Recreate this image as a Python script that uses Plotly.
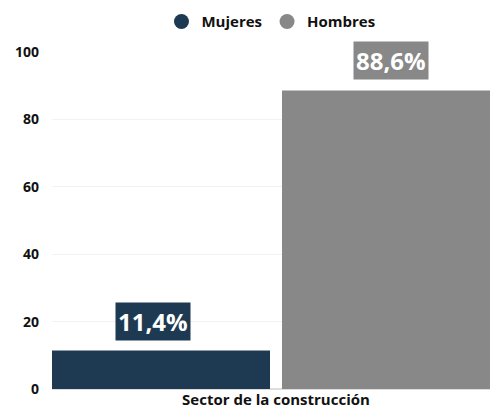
import plotly.graph_objects as go

categories = ["Sector de la construcción"]
series_names = ["Mujeres", "Hombres"]
mujeres = [11.4]
hombres = [88.6]
value_labels = ["11,4%", "88,6%"]
colors = ["#1d3a52", "#888888"]
y_ticks = [0, 20, 40, 60, 80, 100]

FONT = "Open Sans"

fig = go.Figure()
for name, vals, col in zip(series_names, [mujeres, hombres], colors):
    fig.add_trace(go.Bar(x=categories, y=vals, name=name, marker_color=col,
                         marker_line_width=0, showlegend=False, hoverinfo="skip"))
    fig.add_trace(go.Scatter(x=[None], y=[None], mode="markers", name=name,
                             marker=dict(color=col, size=15, symbol="circle")))

for i, (vals, lab, col) in enumerate(zip([mujeres, hombres], value_labels, colors)):
    fig.add_annotation(x=-0.25 + 0.5 * i, y=vals[0], text=f"<b>{lab}</b>",
                       showarrow=False, yanchor="bottom", yshift=10,
                       xshift=-8 if i == 0 else 0,
                       bgcolor=col, borderpad=2,
                       font=dict(family=FONT, size=24, color="white"))

fig.update_layout(
    width=490, height=409,
    margin=dict(l=52, r=0, t=52, b=20, autoexpand=False),
    paper_bgcolor="white", plot_bgcolor="white",
    barmode="group", bargap=0, bargroupgap=0.052,
    font=dict(family=FONT, color="#111111"),
    legend=dict(orientation="h", x=0.553, xanchor="center", xref="container",
                y=0.987, yanchor="top", yref="container",
                font=dict(family=FONT, size=15, color="#111", weight="bold"),
                traceorder="normal"),
    xaxis=dict(type="category", range=[-0.4859, 0.4642], showgrid=False,
               showline=False, ticks="", automargin=False,
               ticklabelstandoff=0,
               tickfont=dict(family=FONT, size=15, color="#111", weight="bold")),
    yaxis=dict(range=[0, 100], tickvals=y_ticks, showgrid=True, gridcolor="#f2f2f2",
               zeroline=True, zerolinecolor="#dddddd", showline=False,
               ticklabelstandoff=12, automargin=False,
               tickfont=dict(family=FONT, size=14, color="#111", weight="bold")),
)

fig.write_html("out.html", config={"displayModeBar": False},
               post_script="document.body.style.margin='0';document.body.style.overflow='hidden';")
